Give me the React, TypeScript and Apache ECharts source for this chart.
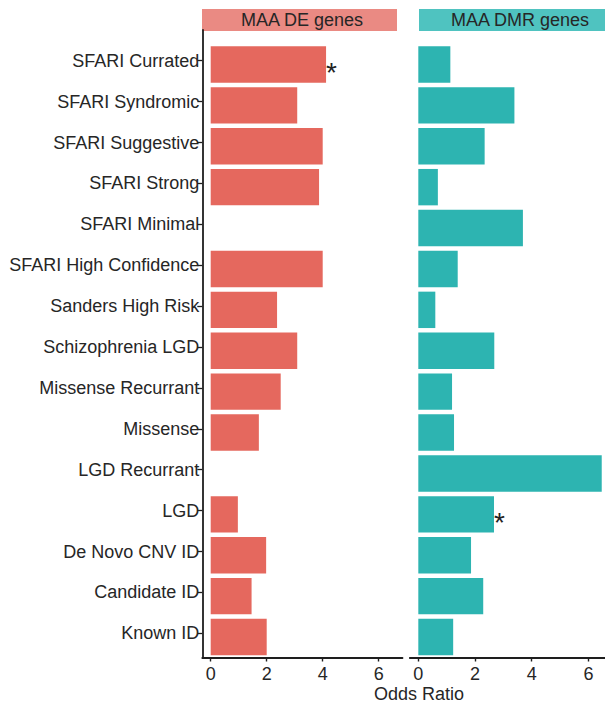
import { useEffect, useRef } from "react";
import * as echarts from "echarts";

// Gene-set categories, top to bottom
const categories = [
  "SFARI Currated",
  "SFARI Syndromic",
  "SFARI Suggestive",
  "SFARI Strong",
  "SFARI Minimal",
  "SFARI High Confidence",
  "Sanders High Risk",
  "Schizophrenia LGD",
  "Missense Recurrant",
  "Missense",
  "LGD Recurrant",
  "LGD",
  "De Novo CNV ID",
  "Candidate ID",
  "Known ID",
];

// Odds ratios per panel (null = no overlap / not tested)
const deOdds = [4.12, 3.09, 4.0, 3.87, null, 4.0, 2.37, 3.09, 2.5, 1.72, null, 0.97, 1.98, 1.46, 2.0];
const dmrOdds = [1.13, 3.39, 2.34, 0.69, 3.69, 1.39, 0.6, 2.68, 1.19, 1.26, 6.47, 2.67, 1.86, 2.29, 1.23];

// Significant enrichments, marked with an asterisk
const deStarred = ["SFARI Currated"];
const dmrStarred = ["LGD"];

const xTicks = [0, 2, 4, 6];
const panelTitles = ["MAA DE genes", "MAA DMR genes"];
const xTitle = "Odds Ratio";

const FONT = "'Liberation Sans', Arial, Helvetica, sans-serif";
const FS = 18;
const TEXT = "#262626";
const AXIS = "#1e1e1e";
const DE_BAR = "#E5685E";
const DMR_BAR = "#2DB4B1";
const DE_STRIP = "#EA8A83";
const DMR_STRIP = "#4FC3C0";

const X_MIN = -0.3;
const X_MAX = 6.85;

const valueAxis = (gridIndex: number) => ({
  type: "value",
  gridIndex,
  min: X_MIN,
  max: X_MAX,
  splitLine: { show: false },
  axisLine: { show: true, onZero: false, lineStyle: { color: AXIS, width: 1.8 } },
  axisTick: { show: true, customValues: xTicks, length: 4, lineStyle: { color: AXIS, width: 1.4 } },
  axisLabel: { customValues: xTicks, color: TEXT, fontSize: FS, fontFamily: FONT, margin: 7 },
});

const hiddenCategoryAxis = (gridIndex: number) => ({
  type: "category",
  gridIndex,
  data: categories,
  inverse: true,
  show: false,
});

const barData = (vals: (number | null)[], starred: string[]) =>
  vals.map((v, i) =>
    starred.includes(categories[i]) ? { value: v, label: { show: true } } : v
  );

const starLabel = {
  show: false,
  position: "right",
  distance: 0,
  formatter: "*",
  fontSize: 28,
  fontFamily: FONT,
  color: "#222",
  offset: [0, 8],
};

const grid = (left: number, top: number, width: number, bottom: number) => ({
  left,
  top,
  width,
  bottom,
  containLabel: false,
  outerBoundsMode: "none",
});

export default function App() {
  const ref = useRef<HTMLDivElement>(null);

  useEffect(() => {
    if (!ref.current) return;
    const chart = echarts.init(ref.current, null, { renderer: "svg" });

    const option = {
      animation: false,
      backgroundColor: "#ffffff",
      grid: [
        // bar panels
        grid(202.3, 44, 200.2, 47.5),
        grid(409.8, 44, 202.7, 47.5),
        // category labels
        grid(202.3, 40.25, 200.2, 51.25),
        // left axis line
        grid(202.3, 30, 200.2, 47.5),
      ],
      xAxis: [
        valueAxis(0),
        valueAxis(1),
        { type: "value", gridIndex: 2, min: 0, max: 1, show: false },
        { type: "value", gridIndex: 3, min: 0, max: 1, show: false },
      ],
      yAxis: [
        hiddenCategoryAxis(0),
        hiddenCategoryAxis(1),
        {
          type: "category",
          gridIndex: 2,
          data: categories,
          inverse: true,
          axisLine: { show: false },
          axisTick: { show: true, alignWithLabel: true, length: 5, lineStyle: { color: AXIS, width: 1.3 } },
          axisLabel: { interval: 0, color: TEXT, fontSize: FS, fontFamily: FONT, margin: 3 },
        },
        {
          type: "value",
          gridIndex: 3,
          min: 0,
          max: 1,
          axisLine: { show: true, onZero: false, lineStyle: { color: AXIS, width: 1.8 } },
          axisTick: { show: false },
          axisLabel: { show: false },
          splitLine: { show: false },
        },
      ],
      series: [
        {
          type: "bar",
          xAxisIndex: 0,
          yAxisIndex: 0,
          data: barData(deOdds, deStarred),
          barCategoryGap: "11%",
          itemStyle: { color: DE_BAR },
          label: starLabel,
        },
        {
          type: "bar",
          xAxisIndex: 1,
          yAxisIndex: 1,
          data: barData(dmrOdds, dmrStarred),
          barCategoryGap: "11%",
          itemStyle: { color: DMR_BAR },
          label: starLabel,
        },
      ],
      graphic: [
        { type: "rect", shape: { x: 202, y: 9, width: 195, height: 22 }, style: { fill: DE_STRIP } },
        {
          type: "text",
          x: 302,
          y: 20,
          style: {
            text: panelTitles[0],
            fill: TEXT,
            font: `${FS}px ${FONT}`,
            textAlign: "center",
            textVerticalAlign: "middle",
          },
        },
        { type: "rect", shape: { x: 419, y: 9, width: 202, height: 22 }, style: { fill: DMR_STRIP } },
        {
          type: "text",
          x: 520,
          y: 20,
          style: {
            text: panelTitles[1],
            fill: TEXT,
            font: `${FS}px ${FONT}`,
            textAlign: "center",
            textVerticalAlign: "middle",
          },
        },
        {
          type: "text",
          x: 419,
          y: 694,
          style: {
            text: xTitle,
            fill: TEXT,
            font: `${FS}px ${FONT}`,
            textAlign: "center",
            textVerticalAlign: "middle",
          },
        },
      ],
    };

    chart.setOption(option as any);
    return () => chart.dispose();
  }, []);

  return (
    <div
      ref={ref}
      style={{ position: "fixed", left: 0, top: 0, width: 605, height: 705, background: "#fff" }}
    />
  );
}
